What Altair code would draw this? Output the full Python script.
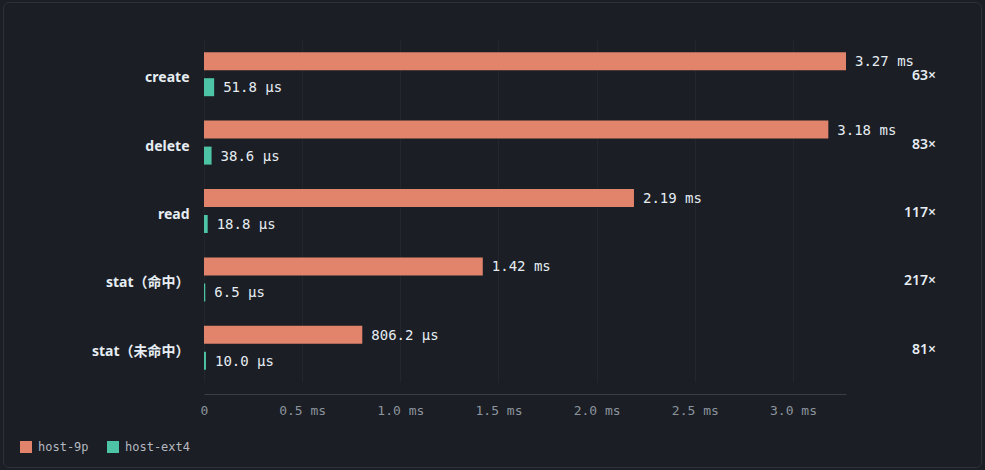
import altair as alt
import pandas as pd
import jinja2

# ---- data ----
categories = ["create", "delete", "read", "stat（命中）", "stat（未命中）"]
series_names = ["host-9p", "host-ext4"]
p9_ms = [3.27, 3.18, 2.19, 1.42, 0.8062]
ext4_us = [51.8, 38.6, 18.8, 6.5, 10.0]
p9_labels = ["3.27 ms", "3.18 ms", "2.19 ms", "1.42 ms", "806.2 µs"]
ext4_labels = ["51.8 µs", "38.6 µs", "18.8 µs", "6.5 µs", "10.0 µs"]
ratio_labels = ["63×", "83×", "117×", "217×", "81×"]
tick_values = [0, 0.5, 1.0, 1.5, 2.0, 2.5, 3.0]
colors = ["#e2836b", "#4ec4a6"]

BG = "#1b1e24"
SANS = "Noto Sans, Noto Sans CJK SC, sans-serif"
MONO = "DejaVu Sans Mono, monospace"

df9 = pd.DataFrame({"category": categories, "series": series_names[0],
                    "value": p9_ms, "label": p9_labels, "ratio": ratio_labels})
dfe = pd.DataFrame({"category": categories, "series": series_names[1],
                    "value": [v / 1000 for v in ext4_us], "label": ext4_labels})

y_enc = alt.Y("category:N", sort=categories,
              scale=alt.Scale(paddingInner=0, paddingOuter=0),
              axis=alt.Axis(title=None, labelFont=SANS, labelFontSize=14,
                            labelFontWeight="bold", labelColor="#e6edf3",
                            labelPadding=15, labelOffset=4, ticks=False,
                            domain=False, grid=False))
x_enc = alt.X("value:Q",
              scale=alt.Scale(domain=[0, 3.27], nice=False, zero=True),
              axis=alt.Axis(title=None, values=tick_values,
                            labelExpr="datum.value == 0 ? '0' : format(datum.value, '.1f') + ' ms'",
                            labelFont=MONO, labelFontSize=13, labelColor="#8b949e",
                            offset=12, domainColor="#3a3f47", ticks=False,
                            gridColor="#22262d", labelPadding=10, labelFlush=False))
color_enc = alt.Color("series:N",
                      scale=alt.Scale(domain=series_names, range=colors),
                      legend=alt.Legend(title=None, orient="none", legendX=-184, legendY=401,
                                        direction="horizontal", symbolType="square",
                                        symbolSize=144, symbolStrokeWidth=0,
                                        labelFont=MONO, labelFontSize=12,
                                        labelColor="#b4b9c0", columnPadding=18,
                                        labelOffset=6))

bars9 = alt.Chart(df9).mark_bar(height=18, yOffset=-13).encode(
    x=x_enc, y=y_enc, color=color_enc)
barse = alt.Chart(dfe).mark_bar(height=18, yOffset=13).encode(
    x="value:Q", y=alt.Y("category:N", sort=categories), color=color_enc)

txt9 = alt.Chart(df9).mark_text(align="left", baseline="middle", dx=9, dy=1, yOffset=-13,
                                font=MONO, fontSize=14, color="#e6edf3").encode(
    x="value:Q", y=alt.Y("category:N", sort=categories), text="label:N")
txte = alt.Chart(dfe).mark_text(align="left", baseline="middle", dx=9, dy=1, yOffset=13,
                                font=MONO, fontSize=14, color="#e6edf3").encode(
    x="value:Q", y=alt.Y("category:N", sort=categories), text="label:N")
ratio = alt.Chart(df9).mark_text(align="right", baseline="middle", dy=2,
                                 font=SANS, fontSize=14, fontWeight=600,
                                 color="#e6edf3").encode(
    x=alt.value(732), y=alt.Y("category:N", sort=categories), text="ratio:N")

chart = alt.layer(bars9, barse, txt9, txte, ratio).properties(
    width=642, height=342,
    autosize=alt.AutoSizeParams(type="none"),
    padding={"left": 196, "top": 32, "right": 131, "bottom": 80},
    background=BG,
).configure_view(stroke=None)

TEMPLATE = jinja2.Template("""<!DOCTYPE html>
<html>
<head>
<meta charset="utf-8">
<style>
html, body { background: """ + BG + """; }
body { margin: 8px; }
body::before { content: ''; position: fixed; left: 3px; top: 2px; right: 3px; bottom: 2px;
  border: 1px solid #2c3038; border-radius: 6px; pointer-events: none; }
#{{ output_div }}.vega-embed { width: 100%; display: flex; }
</style>
<script type="text/javascript" src="{{ base_url }}/vega@{{ vega_version }}"></script>
<script type="text/javascript" src="{{ base_url }}/vega-lite@{{ vegalite_version }}"></script>
<script type="text/javascript" src="{{ base_url }}/vega-embed@{{ vegaembed_version }}"></script>
</head>
<body>
<div id="{{ output_div }}"></div>
<script>
  (function(vegaEmbed) {
    var spec = {{ spec }};
    var embedOpt = {{ embed_options }};
    vegaEmbed("#{{ output_div }}", spec, embedOpt).catch(function(e) {
      document.getElementById('{{ output_div }}').innerHTML = String(e);
    });
  })(vegaEmbed);
</script>
</body>
</html>""")

try:
    chart.save("out.html", embed_options={"renderer": "svg", "actions": False},
               template=TEMPLATE)
except TypeError:
    chart.save("out.html", embed_options={"renderer": "svg", "actions": False})
